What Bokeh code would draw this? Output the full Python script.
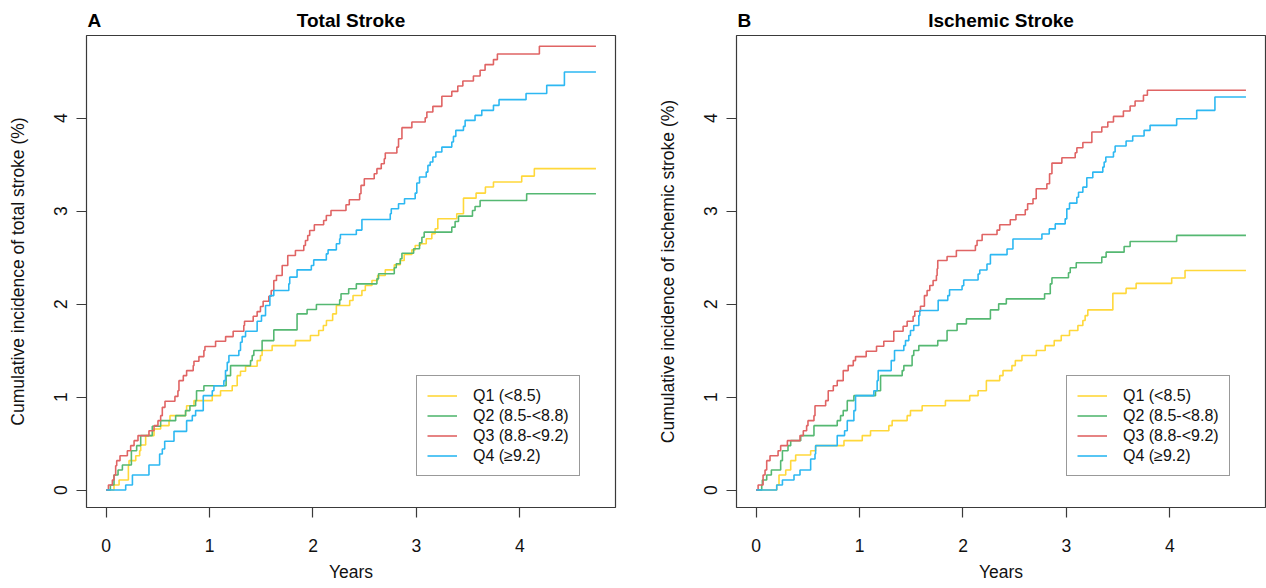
from bokeh.plotting import figure
from bokeh.layouts import row, column
from bokeh.models import Range1d, Legend, LegendItem, FixedTicker
from bokeh.core.properties import value
from bokeh.embed import file_html
from bokeh.resources import INLINE

FONT = "Liberation Sans"

# ---------------- data (years, cumulative incidence %) ----------------
labels = ["Q1 (<8.5)", "Q2 (8.5-<8.8)", "Q3 (8.8-<9.2)", "Q4 (\u22659.2)"]
colors = ["#FFD83A", "#55B872", "#E06464", "#2DB8F2"]
x_ticks = [0, 1, 2, 3, 4]
y_ticks = [0, 1, 2, 3, 4]

total_q1 = [(0, 0), (0.076, 0.054), (0.125, 0.107), (0.215, 0.261), (0.221, 0.316), (0.286, 0.369),
            (0.324, 0.423), (0.334, 0.484), (0.382, 0.585), (0.463, 0.657), (0.527, 0.692), (0.608, 0.746),
            (0.617, 0.800), (0.768, 0.854), (0.778, 0.907), (0.849, 0.961), (1.026, 1.015), (1.106, 1.068),
            (1.219, 1.122), (1.267, 1.230), (1.299, 1.277), (1.348, 1.331), (1.460, 1.392), (1.492, 1.446),
            (1.508, 1.500), (1.605, 1.553), (1.830, 1.607), (1.975, 1.661), (2.055, 1.715), (2.100, 1.769),
            (2.130, 1.823), (2.190, 1.894), (2.226, 1.984), (2.355, 2.038), (2.387, 2.092), (2.473, 2.145),
            (2.506, 2.199), (2.570, 2.253), (2.625, 2.307), (2.699, 2.368), (2.786, 2.422), (2.844, 2.468),
            (2.882, 2.533), (2.956, 2.583), (2.988, 2.630), (3.037, 2.648), (3.095, 2.702), (3.149, 2.756),
            (3.181, 2.809), (3.207, 2.917), (3.390, 2.971), (3.455, 3.139), (3.577, 3.193), (3.667, 3.258),
            (3.745, 3.312), (4.018, 3.376), (4.140, 3.456), (4.736, 3.456)]

total_q2 = [(0, 0), (0.041, 0.054), (0.076, 0.161), (0.115, 0.215), (0.157, 0.269), (0.244, 0.423),
            (0.295, 0.477), (0.334, 0.585), (0.446, 0.685), (0.527, 0.746), (0.672, 0.800), (0.768, 0.854),
            (0.810, 0.907), (0.865, 0.961), (0.874, 1.068), (0.945, 1.122), (1.160, 1.230), (1.203, 1.338),
            (1.396, 1.392), (1.412, 1.446), (1.428, 1.500), (1.508, 1.607), (1.621, 1.722), (1.846, 1.894),
            (1.943, 1.941), (2.033, 1.995), (2.258, 2.045), (2.271, 2.110), (2.345, 2.164), (2.419, 2.217),
            (2.618, 2.271), (2.634, 2.325), (2.786, 2.390), (2.805, 2.433), (2.844, 2.487), (2.860, 2.547),
            (2.973, 2.594), (3.030, 2.659), (3.053, 2.719), (3.075, 2.773), (3.342, 2.827), (3.374, 2.888),
            (3.407, 2.945), (3.542, 3.006), (3.567, 3.049), (3.616, 3.114), (4.066, 3.186), (4.736, 3.186)]

total_q3 = [(0, 0), (0.022, 0.054), (0.060, 0.107), (0.076, 0.161), (0.092, 0.261), (0.102, 0.316),
            (0.134, 0.369), (0.205, 0.423), (0.237, 0.477), (0.270, 0.531), (0.308, 0.585), (0.414, 0.638),
            (0.463, 0.692), (0.501, 0.746), (0.527, 0.800), (0.543, 0.889), (0.569, 0.954), (0.665, 1.007),
            (0.694, 1.068), (0.704, 1.176), (0.746, 1.230), (0.778, 1.284), (0.842, 1.338), (0.849, 1.385),
            (0.897, 1.435), (0.945, 1.500), (0.955, 1.543), (1.058, 1.600), (1.155, 1.650), (1.228, 1.708),
            (1.331, 1.769), (1.338, 1.815), (1.422, 1.869), (1.460, 1.919), (1.492, 1.973), (1.518, 2.030),
            (1.573, 2.084), (1.596, 2.145), (1.621, 2.253), (1.647, 2.307), (1.702, 2.415), (1.756, 2.522),
            (1.830, 2.576), (1.911, 2.630), (1.927, 2.683), (1.949, 2.737), (1.968, 2.791), (2.013, 2.852),
            (2.103, 2.899), (2.129, 2.953), (2.174, 3.006), (2.319, 3.068), (2.351, 3.122), (2.451, 3.186),
            (2.464, 3.276), (2.496, 3.348), (2.592, 3.402), (2.618, 3.456), (2.660, 3.509), (2.689, 3.563),
            (2.699, 3.624), (2.811, 3.688), (2.827, 3.778), (2.860, 3.897), (2.956, 3.957), (3.085, 4.004),
            (3.101, 4.065), (3.159, 4.126), (3.246, 4.234), (3.342, 4.287), (3.400, 4.345), (3.449, 4.399),
            (3.551, 4.452), (3.616, 4.514), (3.664, 4.575), (3.745, 4.629), (3.783, 4.689), (4.189, 4.772),
            (4.736, 4.772)]

total_q4 = [(0, 0), (0.189, 0.054), (0.254, 0.161), (0.414, 0.269), (0.517, 0.388), (0.543, 0.441),
            (0.566, 0.524), (0.656, 0.631), (0.778, 0.746), (0.833, 0.800), (0.865, 0.854), (0.939, 1.015),
            (1.026, 1.068), (1.042, 1.122), (1.138, 1.176), (1.154, 1.284), (1.171, 1.373), (1.187, 1.446),
            (1.283, 1.500), (1.299, 1.589), (1.315, 1.650), (1.348, 1.708), (1.460, 1.815), (1.502, 1.876),
            (1.541, 1.984), (1.583, 2.091), (1.621, 2.145), (1.766, 2.217), (1.775, 2.289), (1.846, 2.368),
            (1.984, 2.414), (2.007, 2.475), (2.129, 2.540), (2.146, 2.583), (2.226, 2.648), (2.258, 2.702),
            (2.265, 2.748), (2.419, 2.795), (2.473, 2.910), (2.747, 2.971), (2.757, 3.025), (2.827, 3.079),
            (2.885, 3.133), (2.988, 3.193), (3.004, 3.301), (3.030, 3.366), (3.095, 3.419), (3.111, 3.491),
            (3.133, 3.527), (3.159, 3.581), (3.188, 3.635), (3.246, 3.688), (3.342, 3.742), (3.358, 3.803),
            (3.381, 3.868), (3.455, 3.911), (3.471, 3.975), (3.567, 4.029), (3.632, 4.083), (3.745, 4.137),
            (3.799, 4.198), (4.060, 4.264), (4.260, 4.352), (4.431, 4.495), (4.736, 4.495)]

isch_q1 = [(0, 0), (0.199, 0.054), (0.221, 0.161), (0.286, 0.215), (0.334, 0.316), (0.382, 0.377),
           (0.527, 0.423), (0.575, 0.477), (0.849, 0.531), (1.026, 0.585), (1.106, 0.638), (1.283, 0.692),
           (1.315, 0.746), (1.460, 0.800), (1.492, 0.854), (1.605, 0.907), (1.830, 0.961), (2.065, 1.015),
           (2.146, 1.068), (2.226, 1.176), (2.355, 1.230), (2.387, 1.284), (2.473, 1.338), (2.506, 1.392),
           (2.570, 1.446), (2.709, 1.500), (2.795, 1.553), (2.882, 1.607), (2.950, 1.661), (3.030, 1.715),
           (3.111, 1.769), (3.159, 1.823), (3.181, 1.876), (3.207, 1.937), (3.449, 2.115), (3.577, 2.168),
           (3.674, 2.222), (4.018, 2.280), (4.147, 2.360), (4.736, 2.360)]

isch_q2 = [(0, 0), (0.054, 0.054), (0.060, 0.107), (0.102, 0.161), (0.147, 0.215), (0.237, 0.316),
           (0.254, 0.423), (0.308, 0.477), (0.334, 0.531), (0.431, 0.585), (0.559, 0.692), (0.784, 0.746),
           (0.816, 0.800), (0.842, 0.854), (0.881, 0.961), (0.945, 1.015), (1.154, 1.068), (1.203, 1.230),
           (1.412, 1.284), (1.428, 1.338), (1.508, 1.446), (1.524, 1.500), (1.573, 1.553), (1.756, 1.607),
           (1.846, 1.715), (1.943, 1.787), (2.033, 1.840), (2.265, 1.937), (2.345, 2.002), (2.419, 2.056),
           (2.789, 2.110), (2.844, 2.217), (2.860, 2.282), (3.020, 2.336), (3.037, 2.390), (3.095, 2.444),
           (3.342, 2.505), (3.384, 2.558), (3.558, 2.619), (3.616, 2.673), (4.066, 2.738), (4.736, 2.738)]

isch_q3 = [(0, 0), (0.019, 0.054), (0.067, 0.161), (0.086, 0.215), (0.102, 0.316), (0.134, 0.369),
           (0.212, 0.423), (0.237, 0.477), (0.302, 0.531), (0.424, 0.585), (0.456, 0.638), (0.488, 0.692),
           (0.501, 0.746), (0.559, 0.800), (0.569, 0.907), (0.672, 0.961), (0.697, 1.068), (0.746, 1.122),
           (0.784, 1.176), (0.842, 1.284), (0.890, 1.338), (0.939, 1.392), (0.961, 1.435), (1.064, 1.493),
           (1.164, 1.546), (1.234, 1.600), (1.331, 1.708), (1.421, 1.761), (1.460, 1.815), (1.518, 1.869),
           (1.534, 1.923), (1.589, 1.977), (1.627, 2.091), (1.653, 2.145), (1.679, 2.199), (1.711, 2.253),
           (1.743, 2.307), (1.750, 2.380), (1.756, 2.468), (1.846, 2.511), (1.936, 2.576), (2.120, 2.630),
           (2.136, 2.683), (2.185, 2.748), (2.329, 2.795), (2.355, 2.852), (2.457, 2.906), (2.512, 2.960),
           (2.602, 3.014), (2.625, 3.079), (2.677, 3.133), (2.708, 3.240), (2.811, 3.294), (2.837, 3.402),
           (2.860, 3.516), (2.956, 3.574), (3.085, 3.627), (3.101, 3.681), (3.159, 3.738), (3.246, 3.850),
           (3.342, 3.904), (3.400, 3.957), (3.455, 4.018), (3.551, 4.076), (3.616, 4.130), (3.664, 4.184),
           (3.745, 4.245), (3.783, 4.299), (4.736, 4.299)]

isch_q4 = [(0, 0), (0.199, 0.054), (0.254, 0.107), (0.366, 0.161), (0.424, 0.215), (0.527, 0.334),
           (0.569, 0.388), (0.575, 0.477), (0.784, 0.585), (0.855, 0.638), (0.881, 0.746), (0.945, 0.854),
           (0.961, 1.015), (1.138, 1.068), (1.170, 1.176), (1.180, 1.284), (1.306, 1.392), (1.338, 1.500),
           (1.428, 1.553), (1.444, 1.607), (1.476, 1.661), (1.492, 1.715), (1.524, 1.769), (1.573, 1.876),
           (1.582, 1.930), (1.760, 2.040), (1.853, 2.091), (1.870, 2.153), (1.991, 2.197), (2.007, 2.258),
           (2.146, 2.323), (2.162, 2.366), (2.232, 2.430), (2.265, 2.531), (2.426, 2.592), (2.483, 2.700),
           (2.763, 2.754), (2.834, 2.808), (2.892, 2.862), (2.988, 2.916), (3.004, 3.024), (3.030, 3.085),
           (3.101, 3.149), (3.117, 3.203), (3.159, 3.257), (3.197, 3.358), (3.255, 3.419), (3.352, 3.473),
           (3.365, 3.527), (3.381, 3.581), (3.455, 3.635), (3.471, 3.699), (3.577, 3.753), (3.641, 3.807),
           (3.751, 3.868), (3.809, 3.922), (4.066, 3.993), (4.260, 4.083), (4.436, 4.227), (4.736, 4.227)]

HEADER_H = 34
FRAME_W = 529
FRAME_H = 472
TOTAL_H = 586


def make_header(letter, title, width, frame_left):
    h = figure(width=width, height=HEADER_H, output_backend="svg", toolbar_location=None,
               x_range=Range1d(0, width), y_range=Range1d(0, HEADER_H),
               x_axis_type=None, y_axis_type=None, min_border=0)
    h.grid.visible = False
    h.outline_line_color = None
    h.background_fill_color = "white"
    h.border_fill_color = "white"
    h.text(x=[frame_left + 1], y=[HEADER_H - 20], text=[letter], text_font=value(FONT),
           text_font_size="19px", text_font_style="bold", text_align="left",
           text_baseline="middle", text_color="#000000")
    h.text(x=[frame_left + FRAME_W / 2], y=[HEADER_H - 20], text=[title], text_font=value(FONT),
           text_font_size="19px", text_font_style="bold", text_align="center",
           text_baseline="middle", text_color="#000000")
    return h


def make_panel(ylabel, series, width, border_left):
    height = TOTAL_H - HEADER_H
    p = figure(width=width, height=height, output_backend="svg", toolbar_location=None,
               x_range=Range1d(-0.19, 4.925), y_range=Range1d(-0.188, 4.888),
               min_border_left=border_left, min_border_right=width - border_left - FRAME_W,
               min_border_top=1, min_border_bottom=height - 1 - FRAME_H)
    p.grid.visible = False
    p.outline_line_color = "#3a3a3a"
    p.outline_line_width = 1.2
    p.background_fill_color = "white"
    p.border_fill_color = "white"

    for ax in (p.xaxis[0], p.yaxis[0]):
        ax.axis_line_color = None
        ax.major_tick_in = 0
        ax.major_tick_out = 10
        ax.major_tick_line_color = "#3a3a3a"
        ax.major_tick_line_width = 1.2
        ax.minor_tick_line_color = None
        ax.major_label_text_font = FONT
        ax.major_label_text_font_size = "17.5px"
        ax.major_label_text_color = "#111111"
        ax.axis_label_text_font = FONT
        ax.axis_label_text_font_size = "17.5px"
        ax.axis_label_text_font_style = "normal"
        ax.axis_label_text_color = "#111111"
    p.xaxis[0].ticker = FixedTicker(ticks=x_ticks)
    p.yaxis[0].ticker = FixedTicker(ticks=y_ticks)
    p.xaxis[0].major_label_standoff = 21
    p.xaxis[0].axis_label = "Years"
    p.xaxis[0].axis_label_standoff = 7
    p.yaxis[0].major_label_orientation = "vertical"
    p.yaxis[0].major_label_standoff = 9
    p.yaxis[0].axis_label = ylabel
    p.yaxis[0].axis_label_standoff = 24

    items = []
    for pts, lab, col in zip(series, labels, colors):
        xs = [a for a, b in pts]
        ys = [b for a, b in pts]
        r = p.step(xs, ys, mode="after", line_color=col, line_width=1.6)
        items.append(LegendItem(label=lab, renderers=[r]))

    legend = Legend(items=items, location=(330, 31))
    legend.border_line_color = "#333333"
    legend.border_line_width = 1.2
    legend.background_fill_color = "white"
    legend.background_fill_alpha = 1.0
    legend.label_text_font = FONT
    legend.label_text_font_size = "16px"
    legend.label_text_color = "#111111"
    legend.glyph_width = 30
    legend.glyph_height = 19
    legend.label_height = 19
    legend.spacing = 1
    legend.padding = 10
    legend.margin = 0
    legend.label_standoff = 16
    p.add_layout(legend)
    return p


hA = make_header("A", "Total Stroke", 640, 86)
hB = make_header("B", "Ischemic Stroke", 626, 96)
pA = make_panel("Cumulative incidence of total stroke (%)",
                [total_q1, total_q2, total_q3, total_q4], 640, 86)
pB = make_panel("Cumulative incidence of ischemic stroke (%)",
                [isch_q1, isch_q2, isch_q3, isch_q4], 626, 96)

layout = column(row(hA, hB), row(pA, pB))
open("out.html", "w").write(file_html(layout, INLINE))
